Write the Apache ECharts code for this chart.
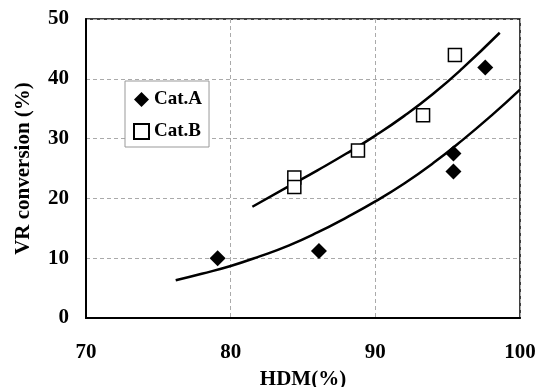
<!DOCTYPE html>
<html>
<head>
<meta charset="utf-8">
<script src="https://cdn.jsdelivr.net/npm/echarts@6/dist/echarts.min.js"></script>
<style>
    html, body { margin: 0; padding: 0; background: #fff; }
    #chart { width: 537px; height: 387px; }
</style>
</head>
<body>
<div id="chart"></div>
<script>
// measured points (HDM %, VR conversion %)
var catA = [[79.1, 10.0], [86.1, 11.2], [95.4, 27.5], [95.4, 24.5], [97.6, 41.9]];
var catB = [[84.4, 23.5], [84.4, 21.9], [88.8, 28.0], [93.3, 33.9], [95.5, 44.0]];

// trend curves
var fitA = [[76.2, 6.3], [78, 7.4], [80, 8.7], [82, 10.3], [84, 12.1], [86, 14.3], [88, 16.8],
    [90, 19.5], [92, 22.5], [94, 25.9], [96, 29.7], [98, 33.8], [100, 38.2]];
var fitB = [[81.5, 18.6], [84, 22.0], [86, 24.7], [88, 27.5], [90, 30.5], [92, 33.8],
    [94, 37.5], [96, 41.7], [98.6, 47.7]];

var legendNames = ['Cat.A', 'Cat.B'];

var font = '"Liberation Serif", "Times New Roman", serif';

var chart = echarts.init(document.getElementById('chart'));

var option = {
    backgroundColor: '#fff',
    animation: false,
    grid: {
        left: 86, right: 17, top: 19, bottom: 69,
        outerBoundsMode: 'none',
        show: true, borderColor: '#000', borderWidth: 1.5
    },
    legend: {
        data: legendNames,
        orient: 'vertical',
        left: 125, top: 81,
        padding: [9, 7, 6, 8],
        itemGap: 13,
        itemWidth: 15, itemHeight: 15,
        backgroundColor: '#fff',
        borderColor: '#999', borderWidth: 1,
        textStyle: { fontFamily: font, fontWeight: 'bold', fontSize: 19, color: '#000' }
    },
    xAxis: {
        type: 'value', min: 70, max: 100, interval: 10,
        name: 'HDM(%)', nameLocation: 'middle', nameGap: 51,
        nameTextStyle: { fontFamily: font, fontWeight: 'bold', fontSize: 21, color: '#000' },
        axisLine: { lineStyle: { color: '#000', width: 2 } },
        axisTick: { show: false },
        axisLabel: { margin: 24, fontFamily: font, fontWeight: 'bold', fontSize: 21, color: '#000' },
        splitLine: { lineStyle: { color: '#aaa', type: [4, 3], width: 1 } }
    },
    yAxis: {
        type: 'value', min: 0, max: 50, interval: 10,
        name: 'VR conversion (%)', nameLocation: 'middle', nameGap: 52, nameRotate: 90,
        nameTextStyle: { fontFamily: font, fontWeight: 'bold', fontSize: 21, color: '#000' },
        axisLine: { lineStyle: { color: '#000', width: 2 } },
        axisTick: { show: false },
        axisLabel: { margin: 17, fontFamily: font, fontWeight: 'bold', fontSize: 21, color: '#000' },
        splitLine: { lineStyle: { color: '#aaa', type: [4, 3], width: 1 } }
    },
    series: [
        {
            name: 'fitA', type: 'line', data: fitA, smooth: true, showSymbol: false,
            lineStyle: { color: '#000', width: 2.5 }, z: 2
        },
        {
            name: 'fitB', type: 'line', data: fitB, smooth: true, showSymbol: false,
            lineStyle: { color: '#000', width: 2.5 }, z: 2
        },
        {
            name: 'Cat.A', type: 'scatter', data: catA,
            symbol: 'diamond', symbolSize: 16,
            itemStyle: { color: '#000', opacity: 1 }, z: 3
        },
        {
            name: 'Cat.B', type: 'scatter', data: catB,
            symbol: 'rect', symbolSize: 13,
            itemStyle: { color: '#fff', borderColor: '#000', borderWidth: 1.5, opacity: 1 }, z: 3
        }
    ]
};

chart.setOption(option);
</script>
</body>
</html>
